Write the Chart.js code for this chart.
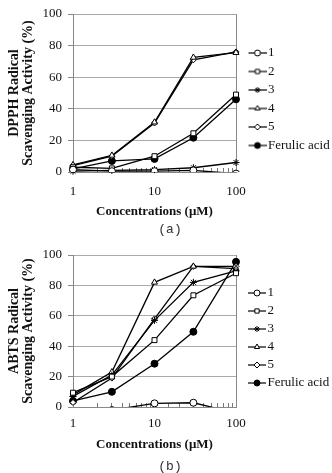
<!DOCTYPE html>
<html><head><meta charset="utf-8">
<script src="https://cdn.jsdelivr.net/npm/chart.js@4.4.1/dist/chart.umd.min.js"></script>
<style>
html,body{margin:0;padding:0;background:#fff;width:332px;height:473px;overflow:hidden}
.wrap{position:absolute;left:0;width:332px}
.cap{position:absolute;left:0;width:340px;text-align:center;font:13px 'Liberation Mono',monospace;color:#333;line-height:16px}
</style></head><body>
<div class="wrap" style="top:0;height:240px"><canvas id="c1"></canvas></div>
<div class="cap" style="top:222px">(a)</div>
<div class="wrap" style="top:240px;height:233px"><canvas id="c2"></canvas></div>
<div class="cap" style="top:459px">(b)</div>
<script>
// ---- data ----
const concentrations = [1, 3, 10, 30, 100];
const seriesLabels = ['1', '2', '3', '4', '5', 'Ferulic acid'];
const xTickLabels = [1, 10, 100];

const dpph1 = [1.5, 0.5, 0.5, 1, -1];
const dpph2 = [3, 2.3, 10, 24.5, 49];
const dpph3 = [0.5, 1, 1.5, 2.7, 6];
const dpph4 = [4.5, 10.5, 31.5, 72.5, 75.5];
const dpph5 = [4, 10, 31, 71, 76];
const dpphFerulic = [2, 7, 8.3, 21.7, 46];

const abts1 = [-3, -2, 2.4, 2.8, -4];
const abts2 = [9.4, 20, 44, 73.5, 88];
const abts3 = [7, 21, 57, 82, 89.5];
const abts4 = [8, 23, 82, 92.5, 91];
const abts5 = [3, 19, 58, 92.5, 92.5];
const abtsFerulic = [4, 10, 28.5, 49.5, 95.5];

// ---- styles ----
const markerStyles = ['circle', 'rect', 'star', 'triangle', 'rectRot', 'circle'];
const markerFill = ['#fff', '#fff', '#fff', '#fff', '#fff', '#000'];
const markerRadius = [3.5, 3.5, 3.5, 3.5, 3, 3.5];

function makeIcon(i) {
  const c = document.createElement('canvas');
  c.width = 30; c.height = 12;
  const g = c.getContext('2d');
  g.strokeStyle = '#000'; g.lineWidth = 1.2;
  g.beginPath(); g.moveTo(12, 6); g.lineTo(30, 6); g.stroke();
  g.fillStyle = markerFill[i]; g.lineWidth = 1;
  Chart.helpers.drawPoint(g, {pointStyle: markerStyles[i], radius: 3, rotation: 0, borderWidth: 1}, 21, 6);
  return c;
}
const icons = seriesLabels.map((_, i) => makeIcon(i));

const frame = {
  id: 'frame',
  beforeDatasetsDraw(chart) {
    const {ctx, chartArea: a} = chart;
    ctx.save();
    ctx.strokeStyle = '#888'; ctx.lineWidth = 1;
    const x = Math.round(a.right) + 0.5;
    ctx.beginPath(); ctx.moveTo(x, a.top); ctx.lineTo(x, a.bottom); ctx.stroke();
    ctx.restore();
  }
};

function makeChart(id, values, yTitle, cfg) {
  const datasets = values.map((v, i) => ({
    label: seriesLabels[i],
    data: v.map((y, k) => ({x: concentrations[k], y})),
    borderColor: '#000',
    borderWidth: 1.3,
    pointStyle: markerStyles[i],
    pointRadius: markerRadius[i],
    pointBackgroundColor: markerFill[i],
    pointBorderColor: '#000',
    pointBorderWidth: 1,
    fill: false,
    tension: 0,
    clip: v.some(y => y < 0) ? {left: 6, right: 6, top: 6, bottom: 0} : false
  }));
  return new Chart(document.getElementById(id), {
    type: 'line',
    data: {datasets},
    options: {
      responsive: true,
      maintainAspectRatio: false,
      animation: false,
      events: [],
      layout: {padding: {top: cfg.top, bottom: cfg.bottom, left: 0, right: 0}},
      plugins: {
        tooltip: {enabled: false},
        legend: {
          position: 'right',
          fullSize: false,
          maxWidth: 96,
          title: {display: true, text: '', font: {size: 1, lineHeight: 1}, padding: {top: cfg.legShift, bottom: 0}},
          labels: {
            usePointStyle: true,
            pointStyleWidth: 20,
            padding: cfg.legPad,
            color: '#111',
            font: {family: "'Liberation Serif', serif", size: 13},
            generateLabels: (chart) => chart.data.datasets.map((ds, i) => ({
              text: ds.label, pointStyle: icons[i], fillStyle: '#000', strokeStyle: '#000',
              lineWidth: 0, hidden: false, datasetIndex: i, fontColor: '#111'
            }))
          }
        }
      },
      scales: {
        x: {
          type: 'logarithmic',
          min: 1, max: 100,
          afterFit: s => { s.height = cfg.xH; },
          ticks: {
            autoSkip: false, maxRotation: 0, minRotation: 0,
            padding: cfg.xPad,
            color: '#111',
            font: {family: "'Liberation Serif', serif", size: 13},
            callback: (v) => xTickLabels.some(t => Math.abs(t - v) < 1e-6) ? String(v) : ''
          },
          grid: {drawOnChartArea: false, drawTicks: true, tickLength: -4, color: '#777', lineWidth: 1},
          border: {display: true, color: '#888'},
          title: {display: true, text: 'Concentrations (μM)', color: '#111',
            font: {family: "'Liberation Serif', serif", size: 13, weight: 'bold'}, padding: {top: 0, bottom: 0}}
        },
        y: {
          min: 0, max: 100,
          afterFit: s => { s.width = 73; },
          ticks: {stepSize: 20, padding: 6, color: '#111',
            font: {family: "'Liberation Serif', serif", size: 13}},
          grid: {color: '#aaa', lineWidth: 1, tickLength: 5, tickColor: '#888'},
          border: {display: true, color: '#888'},
          title: {display: true, text: yTitle, color: '#111',
            font: {family: "'Liberation Serif', serif", size: 14, weight: 'bold', lineHeight: 1},
            padding: {top: 7, bottom: 0}}
        }
      }
    },
    plugins: [frame]
  });
}

makeChart('c1', [dpph1, dpph2, dpph3, dpph4, dpph5, dpphFerulic],
  ['DPPH Radical', 'Scavenging Activity (%)'],
  {top: 14, bottom: 21, xH: 47, xPad: 16, legPad: 5.5, legShift: 11.5});
makeChart('c2', [abts1, abts2, abts3, abts4, abts5, abtsFerulic],
  ['ABTS Radical', 'Scavenging Activity (%)'],
  {top: 15, bottom: 21, xH: 45, xPad: 13, legPad: 5, legShift: 13});
</script>
</body></html>
